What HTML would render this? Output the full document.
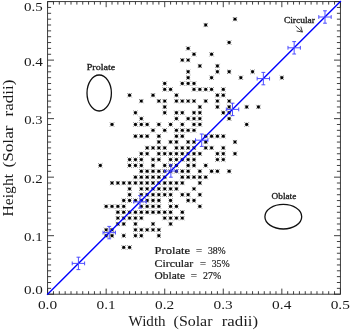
<!DOCTYPE html>
<html><head><meta charset="utf-8"><title>Height vs Width</title>
<style>
html,body{margin:0;padding:0;background:#fff}
svg{display:block}
text{font-family:"Liberation Serif","DejaVu Serif",serif;fill:#1a1a1a}
</style></head><body>
<svg width="350" height="330" viewBox="0 0 350 330">
<rect width="350" height="330" fill="#fff"/>
<g fill="none" stroke="#2a2a2a" stroke-width="0.9">
<rect x="47.6" y="1.599999999999966" width="292.8" height="292.6"/>
<path d="M47.6 294.2v-5.6M47.6 1.6v5.6M47.6 294.2h6.4M340.4 294.2h-6.4M53.46 294.2v-3.0M53.46 1.6v3.0M47.6 288.35h3.5M340.4 288.35h-3.5M59.31 294.2v-3.0M59.31 1.6v3.0M47.6 282.5h3.5M340.4 282.5h-3.5M65.17 294.2v-3.0M65.17 1.6v3.0M47.6 276.64h3.5M340.4 276.64h-3.5M71.02 294.2v-3.0M71.02 1.6v3.0M47.6 270.79h3.5M340.4 270.79h-3.5M76.88 294.2v-3.0M76.88 1.6v3.0M47.6 264.94h3.5M340.4 264.94h-3.5M82.74 294.2v-3.0M82.74 1.6v3.0M47.6 259.09h3.5M340.4 259.09h-3.5M88.59 294.2v-3.0M88.59 1.6v3.0M47.6 253.24h3.5M340.4 253.24h-3.5M94.45 294.2v-3.0M94.45 1.6v3.0M47.6 247.38h3.5M340.4 247.38h-3.5M100.3 294.2v-3.0M100.3 1.6v3.0M47.6 241.53h3.5M340.4 241.53h-3.5M106.16 294.2v-5.6M106.16 1.6v5.6M47.6 235.68h6.4M340.4 235.68h-6.4M112.02 294.2v-3.0M112.02 1.6v3.0M47.6 229.83h3.5M340.4 229.83h-3.5M117.87 294.2v-3.0M117.87 1.6v3.0M47.6 223.98h3.5M340.4 223.98h-3.5M123.73 294.2v-3.0M123.73 1.6v3.0M47.6 218.12h3.5M340.4 218.12h-3.5M129.58 294.2v-3.0M129.58 1.6v3.0M47.6 212.27h3.5M340.4 212.27h-3.5M135.44 294.2v-3.0M135.44 1.6v3.0M47.6 206.42h3.5M340.4 206.42h-3.5M141.3 294.2v-3.0M141.3 1.6v3.0M47.6 200.57h3.5M340.4 200.57h-3.5M147.15 294.2v-3.0M147.15 1.6v3.0M47.6 194.72h3.5M340.4 194.72h-3.5M153.01 294.2v-3.0M153.01 1.6v3.0M47.6 188.86h3.5M340.4 188.86h-3.5M158.86 294.2v-3.0M158.86 1.6v3.0M47.6 183.01h3.5M340.4 183.01h-3.5M164.72 294.2v-5.6M164.72 1.6v5.6M47.6 177.16h6.4M340.4 177.16h-6.4M170.58 294.2v-3.0M170.58 1.6v3.0M47.6 171.31h3.5M340.4 171.31h-3.5M176.43 294.2v-3.0M176.43 1.6v3.0M47.6 165.46h3.5M340.4 165.46h-3.5M182.29 294.2v-3.0M182.29 1.6v3.0M47.6 159.6h3.5M340.4 159.6h-3.5M188.14 294.2v-3.0M188.14 1.6v3.0M47.6 153.75h3.5M340.4 153.75h-3.5M194 294.2v-3.0M194 1.6v3.0M47.6 147.9h3.5M340.4 147.9h-3.5M199.86 294.2v-3.0M199.86 1.6v3.0M47.6 142.05h3.5M340.4 142.05h-3.5M205.71 294.2v-3.0M205.71 1.6v3.0M47.6 136.2h3.5M340.4 136.2h-3.5M211.57 294.2v-3.0M211.57 1.6v3.0M47.6 130.34h3.5M340.4 130.34h-3.5M217.42 294.2v-3.0M217.42 1.6v3.0M47.6 124.49h3.5M340.4 124.49h-3.5M223.28 294.2v-5.6M223.28 1.6v5.6M47.6 118.64h6.4M340.4 118.64h-6.4M229.14 294.2v-3.0M229.14 1.6v3.0M47.6 112.79h3.5M340.4 112.79h-3.5M234.99 294.2v-3.0M234.99 1.6v3.0M47.6 106.94h3.5M340.4 106.94h-3.5M240.85 294.2v-3.0M240.85 1.6v3.0M47.6 101.08h3.5M340.4 101.08h-3.5M246.7 294.2v-3.0M246.7 1.6v3.0M47.6 95.23h3.5M340.4 95.23h-3.5M252.56 294.2v-3.0M252.56 1.6v3.0M47.6 89.38h3.5M340.4 89.38h-3.5M258.42 294.2v-3.0M258.42 1.6v3.0M47.6 83.53h3.5M340.4 83.53h-3.5M264.27 294.2v-3.0M264.27 1.6v3.0M47.6 77.68h3.5M340.4 77.68h-3.5M270.13 294.2v-3.0M270.13 1.6v3.0M47.6 71.82h3.5M340.4 71.82h-3.5M275.98 294.2v-3.0M275.98 1.6v3.0M47.6 65.97h3.5M340.4 65.97h-3.5M281.84 294.2v-5.6M281.84 1.6v5.6M47.6 60.12h6.4M340.4 60.12h-6.4M287.7 294.2v-3.0M287.7 1.6v3.0M47.6 54.27h3.5M340.4 54.27h-3.5M293.55 294.2v-3.0M293.55 1.6v3.0M47.6 48.42h3.5M340.4 48.42h-3.5M299.41 294.2v-3.0M299.41 1.6v3.0M47.6 42.56h3.5M340.4 42.56h-3.5M305.26 294.2v-3.0M305.26 1.6v3.0M47.6 36.71h3.5M340.4 36.71h-3.5M311.12 294.2v-3.0M311.12 1.6v3.0M47.6 30.86h3.5M340.4 30.86h-3.5M316.98 294.2v-3.0M316.98 1.6v3.0M47.6 25.01h3.5M340.4 25.01h-3.5M322.83 294.2v-3.0M322.83 1.6v3.0M47.6 19.16h3.5M340.4 19.16h-3.5M328.69 294.2v-3.0M328.69 1.6v3.0M47.6 13.3h3.5M340.4 13.3h-3.5M334.54 294.2v-3.0M334.54 1.6v3.0M47.6 7.45h3.5M340.4 7.45h-3.5M340.4 294.2v-5.6M340.4 1.6v5.6M47.6 1.6h6.4M340.4 1.6h-6.4"/>
</g>
<g fill="none" stroke="#000">
<path stroke-width="0.9" stroke-opacity="0.62" d="M232.89 17.06l4.2 4.2m0 -4.2l-4.2 4.2M203.61 22.91l4.2 4.2m0 -4.2l-4.2 4.2M227.04 40.46l4.2 4.2m0 -4.2l-4.2 4.2M186.04 46.32l4.2 4.2m0 -4.2l-4.2 4.2M191.9 52.17l4.2 4.2m0 -4.2l-4.2 4.2M209.47 52.17l4.2 4.2m0 -4.2l-4.2 4.2M180.19 58.02l4.2 4.2m0 -4.2l-4.2 4.2M186.04 58.02l4.2 4.2m0 -4.2l-4.2 4.2M197.76 63.87l4.2 4.2m0 -4.2l-4.2 4.2M215.32 63.87l4.2 4.2m0 -4.2l-4.2 4.2M186.04 69.72l4.2 4.2m0 -4.2l-4.2 4.2M215.32 69.72l4.2 4.2m0 -4.2l-4.2 4.2M227.04 69.72l4.2 4.2m0 -4.2l-4.2 4.2M250.46 69.72l4.2 4.2m0 -4.2l-4.2 4.2M186.04 75.58l4.2 4.2m0 -4.2l-4.2 4.2M209.47 75.58l4.2 4.2m0 -4.2l-4.2 4.2M238.75 75.58l4.2 4.2m0 -4.2l-4.2 4.2M279.74 75.58l4.2 4.2m0 -4.2l-4.2 4.2M162.62 81.43l4.2 4.2m0 -4.2l-4.2 4.2M180.19 81.43l4.2 4.2m0 -4.2l-4.2 4.2M186.04 81.43l4.2 4.2m0 -4.2l-4.2 4.2M191.9 81.43l4.2 4.2m0 -4.2l-4.2 4.2M162.62 87.28l4.2 4.2m0 -4.2l-4.2 4.2M168.48 87.28l4.2 4.2m0 -4.2l-4.2 4.2M191.9 87.28l4.2 4.2m0 -4.2l-4.2 4.2M197.76 87.28l4.2 4.2m0 -4.2l-4.2 4.2M203.61 87.28l4.2 4.2m0 -4.2l-4.2 4.2M209.47 87.28l4.2 4.2m0 -4.2l-4.2 4.2M221.18 87.28l4.2 4.2m0 -4.2l-4.2 4.2M127.48 93.13l4.2 4.2m0 -4.2l-4.2 4.2M150.91 93.13l4.2 4.2m0 -4.2l-4.2 4.2M174.33 93.13l4.2 4.2m0 -4.2l-4.2 4.2M215.32 93.13l4.2 4.2m0 -4.2l-4.2 4.2M221.18 93.13l4.2 4.2m0 -4.2l-4.2 4.2M139.2 98.98l4.2 4.2m0 -4.2l-4.2 4.2M156.76 98.98l4.2 4.2m0 -4.2l-4.2 4.2M162.62 98.98l4.2 4.2m0 -4.2l-4.2 4.2M174.33 98.98l4.2 4.2m0 -4.2l-4.2 4.2M180.19 98.98l4.2 4.2m0 -4.2l-4.2 4.2M186.04 98.98l4.2 4.2m0 -4.2l-4.2 4.2M191.9 98.98l4.2 4.2m0 -4.2l-4.2 4.2M203.61 98.98l4.2 4.2m0 -4.2l-4.2 4.2M215.32 98.98l4.2 4.2m0 -4.2l-4.2 4.2M227.04 98.98l4.2 4.2m0 -4.2l-4.2 4.2M162.62 104.84l4.2 4.2m0 -4.2l-4.2 4.2M197.76 104.84l4.2 4.2m0 -4.2l-4.2 4.2M215.32 104.84l4.2 4.2m0 -4.2l-4.2 4.2M227.04 104.84l4.2 4.2m0 -4.2l-4.2 4.2M244.6 104.84l4.2 4.2m0 -4.2l-4.2 4.2M256.32 104.84l4.2 4.2m0 -4.2l-4.2 4.2M133.34 110.69l4.2 4.2m0 -4.2l-4.2 4.2M162.62 110.69l4.2 4.2m0 -4.2l-4.2 4.2M174.33 110.69l4.2 4.2m0 -4.2l-4.2 4.2M180.19 110.69l4.2 4.2m0 -4.2l-4.2 4.2M191.9 110.69l4.2 4.2m0 -4.2l-4.2 4.2M197.76 110.69l4.2 4.2m0 -4.2l-4.2 4.2M221.18 110.69l4.2 4.2m0 -4.2l-4.2 4.2M227.04 110.69l4.2 4.2m0 -4.2l-4.2 4.2M139.2 116.54l4.2 4.2m0 -4.2l-4.2 4.2M174.33 116.54l4.2 4.2m0 -4.2l-4.2 4.2M186.04 116.54l4.2 4.2m0 -4.2l-4.2 4.2M191.9 116.54l4.2 4.2m0 -4.2l-4.2 4.2M197.76 116.54l4.2 4.2m0 -4.2l-4.2 4.2M227.04 116.54l4.2 4.2m0 -4.2l-4.2 4.2M109.92 122.39l4.2 4.2m0 -4.2l-4.2 4.2M133.34 122.39l4.2 4.2m0 -4.2l-4.2 4.2M139.2 122.39l4.2 4.2m0 -4.2l-4.2 4.2M145.05 122.39l4.2 4.2m0 -4.2l-4.2 4.2M156.76 122.39l4.2 4.2m0 -4.2l-4.2 4.2M168.48 122.39l4.2 4.2m0 -4.2l-4.2 4.2M180.19 122.39l4.2 4.2m0 -4.2l-4.2 4.2M191.9 122.39l4.2 4.2m0 -4.2l-4.2 4.2M197.76 122.39l4.2 4.2m0 -4.2l-4.2 4.2M244.6 122.39l4.2 4.2m0 -4.2l-4.2 4.2M150.91 128.24l4.2 4.2m0 -4.2l-4.2 4.2M162.62 128.24l4.2 4.2m0 -4.2l-4.2 4.2M174.33 128.24l4.2 4.2m0 -4.2l-4.2 4.2M180.19 128.24l4.2 4.2m0 -4.2l-4.2 4.2M186.04 128.24l4.2 4.2m0 -4.2l-4.2 4.2M191.9 128.24l4.2 4.2m0 -4.2l-4.2 4.2M133.34 134.1l4.2 4.2m0 -4.2l-4.2 4.2M139.2 134.1l4.2 4.2m0 -4.2l-4.2 4.2M145.05 134.1l4.2 4.2m0 -4.2l-4.2 4.2M156.76 134.1l4.2 4.2m0 -4.2l-4.2 4.2M174.33 134.1l4.2 4.2m0 -4.2l-4.2 4.2M180.19 134.1l4.2 4.2m0 -4.2l-4.2 4.2M203.61 134.1l4.2 4.2m0 -4.2l-4.2 4.2M209.47 134.1l4.2 4.2m0 -4.2l-4.2 4.2M215.32 134.1l4.2 4.2m0 -4.2l-4.2 4.2M221.18 134.1l4.2 4.2m0 -4.2l-4.2 4.2M156.76 139.95l4.2 4.2m0 -4.2l-4.2 4.2M168.48 139.95l4.2 4.2m0 -4.2l-4.2 4.2M174.33 139.95l4.2 4.2m0 -4.2l-4.2 4.2M186.04 139.95l4.2 4.2m0 -4.2l-4.2 4.2M191.9 139.95l4.2 4.2m0 -4.2l-4.2 4.2M203.61 139.95l4.2 4.2m0 -4.2l-4.2 4.2M232.89 139.95l4.2 4.2m0 -4.2l-4.2 4.2M145.05 145.8l4.2 4.2m0 -4.2l-4.2 4.2M150.91 145.8l4.2 4.2m0 -4.2l-4.2 4.2M156.76 145.8l4.2 4.2m0 -4.2l-4.2 4.2M162.62 145.8l4.2 4.2m0 -4.2l-4.2 4.2M174.33 145.8l4.2 4.2m0 -4.2l-4.2 4.2M180.19 145.8l4.2 4.2m0 -4.2l-4.2 4.2M186.04 145.8l4.2 4.2m0 -4.2l-4.2 4.2M191.9 145.8l4.2 4.2m0 -4.2l-4.2 4.2M203.61 145.8l4.2 4.2m0 -4.2l-4.2 4.2M209.47 145.8l4.2 4.2m0 -4.2l-4.2 4.2M221.18 145.8l4.2 4.2m0 -4.2l-4.2 4.2M139.2 151.65l4.2 4.2m0 -4.2l-4.2 4.2M145.05 151.65l4.2 4.2m0 -4.2l-4.2 4.2M156.76 151.65l4.2 4.2m0 -4.2l-4.2 4.2M162.62 151.65l4.2 4.2m0 -4.2l-4.2 4.2M168.48 151.65l4.2 4.2m0 -4.2l-4.2 4.2M174.33 151.65l4.2 4.2m0 -4.2l-4.2 4.2M180.19 151.65l4.2 4.2m0 -4.2l-4.2 4.2M186.04 151.65l4.2 4.2m0 -4.2l-4.2 4.2M191.9 151.65l4.2 4.2m0 -4.2l-4.2 4.2M197.76 151.65l4.2 4.2m0 -4.2l-4.2 4.2M215.32 151.65l4.2 4.2m0 -4.2l-4.2 4.2M221.18 151.65l4.2 4.2m0 -4.2l-4.2 4.2M232.89 151.65l4.2 4.2m0 -4.2l-4.2 4.2M127.48 157.5l4.2 4.2m0 -4.2l-4.2 4.2M133.34 157.5l4.2 4.2m0 -4.2l-4.2 4.2M139.2 157.5l4.2 4.2m0 -4.2l-4.2 4.2M150.91 157.5l4.2 4.2m0 -4.2l-4.2 4.2M156.76 157.5l4.2 4.2m0 -4.2l-4.2 4.2M168.48 157.5l4.2 4.2m0 -4.2l-4.2 4.2M174.33 157.5l4.2 4.2m0 -4.2l-4.2 4.2M180.19 157.5l4.2 4.2m0 -4.2l-4.2 4.2M186.04 157.5l4.2 4.2m0 -4.2l-4.2 4.2M191.9 157.5l4.2 4.2m0 -4.2l-4.2 4.2M215.32 157.5l4.2 4.2m0 -4.2l-4.2 4.2M221.18 157.5l4.2 4.2m0 -4.2l-4.2 4.2M98.2 163.36l4.2 4.2m0 -4.2l-4.2 4.2M127.48 163.36l4.2 4.2m0 -4.2l-4.2 4.2M133.34 163.36l4.2 4.2m0 -4.2l-4.2 4.2M139.2 163.36l4.2 4.2m0 -4.2l-4.2 4.2M150.91 163.36l4.2 4.2m0 -4.2l-4.2 4.2M162.62 163.36l4.2 4.2m0 -4.2l-4.2 4.2M168.48 163.36l4.2 4.2m0 -4.2l-4.2 4.2M174.33 163.36l4.2 4.2m0 -4.2l-4.2 4.2M186.04 163.36l4.2 4.2m0 -4.2l-4.2 4.2M191.9 163.36l4.2 4.2m0 -4.2l-4.2 4.2M203.61 163.36l4.2 4.2m0 -4.2l-4.2 4.2M139.2 169.21l4.2 4.2m0 -4.2l-4.2 4.2M145.05 169.21l4.2 4.2m0 -4.2l-4.2 4.2M150.91 169.21l4.2 4.2m0 -4.2l-4.2 4.2M156.76 169.21l4.2 4.2m0 -4.2l-4.2 4.2M162.62 169.21l4.2 4.2m0 -4.2l-4.2 4.2M168.48 169.21l4.2 4.2m0 -4.2l-4.2 4.2M174.33 169.21l4.2 4.2m0 -4.2l-4.2 4.2M180.19 169.21l4.2 4.2m0 -4.2l-4.2 4.2M186.04 169.21l4.2 4.2m0 -4.2l-4.2 4.2M197.76 169.21l4.2 4.2m0 -4.2l-4.2 4.2M209.47 169.21l4.2 4.2m0 -4.2l-4.2 4.2M215.32 169.21l4.2 4.2m0 -4.2l-4.2 4.2M227.04 169.21l4.2 4.2m0 -4.2l-4.2 4.2M133.34 175.06l4.2 4.2m0 -4.2l-4.2 4.2M139.2 175.06l4.2 4.2m0 -4.2l-4.2 4.2M145.05 175.06l4.2 4.2m0 -4.2l-4.2 4.2M150.91 175.06l4.2 4.2m0 -4.2l-4.2 4.2M156.76 175.06l4.2 4.2m0 -4.2l-4.2 4.2M162.62 175.06l4.2 4.2m0 -4.2l-4.2 4.2M180.19 175.06l4.2 4.2m0 -4.2l-4.2 4.2M186.04 175.06l4.2 4.2m0 -4.2l-4.2 4.2M191.9 175.06l4.2 4.2m0 -4.2l-4.2 4.2M197.76 175.06l4.2 4.2m0 -4.2l-4.2 4.2M203.61 175.06l4.2 4.2m0 -4.2l-4.2 4.2M109.92 180.91l4.2 4.2m0 -4.2l-4.2 4.2M115.77 180.91l4.2 4.2m0 -4.2l-4.2 4.2M121.63 180.91l4.2 4.2m0 -4.2l-4.2 4.2M127.48 180.91l4.2 4.2m0 -4.2l-4.2 4.2M133.34 180.91l4.2 4.2m0 -4.2l-4.2 4.2M139.2 180.91l4.2 4.2m0 -4.2l-4.2 4.2M145.05 180.91l4.2 4.2m0 -4.2l-4.2 4.2M150.91 180.91l4.2 4.2m0 -4.2l-4.2 4.2M156.76 180.91l4.2 4.2m0 -4.2l-4.2 4.2M162.62 180.91l4.2 4.2m0 -4.2l-4.2 4.2M168.48 180.91l4.2 4.2m0 -4.2l-4.2 4.2M174.33 180.91l4.2 4.2m0 -4.2l-4.2 4.2M180.19 180.91l4.2 4.2m0 -4.2l-4.2 4.2M197.76 180.91l4.2 4.2m0 -4.2l-4.2 4.2M127.48 186.76l4.2 4.2m0 -4.2l-4.2 4.2M139.2 186.76l4.2 4.2m0 -4.2l-4.2 4.2M145.05 186.76l4.2 4.2m0 -4.2l-4.2 4.2M150.91 186.76l4.2 4.2m0 -4.2l-4.2 4.2M156.76 186.76l4.2 4.2m0 -4.2l-4.2 4.2M162.62 186.76l4.2 4.2m0 -4.2l-4.2 4.2M168.48 186.76l4.2 4.2m0 -4.2l-4.2 4.2M174.33 186.76l4.2 4.2m0 -4.2l-4.2 4.2M191.9 186.76l4.2 4.2m0 -4.2l-4.2 4.2M127.48 192.62l4.2 4.2m0 -4.2l-4.2 4.2M139.2 192.62l4.2 4.2m0 -4.2l-4.2 4.2M145.05 192.62l4.2 4.2m0 -4.2l-4.2 4.2M150.91 192.62l4.2 4.2m0 -4.2l-4.2 4.2M156.76 192.62l4.2 4.2m0 -4.2l-4.2 4.2M162.62 192.62l4.2 4.2m0 -4.2l-4.2 4.2M168.48 192.62l4.2 4.2m0 -4.2l-4.2 4.2M180.19 192.62l4.2 4.2m0 -4.2l-4.2 4.2M186.04 192.62l4.2 4.2m0 -4.2l-4.2 4.2M197.76 192.62l4.2 4.2m0 -4.2l-4.2 4.2M121.63 198.47l4.2 4.2m0 -4.2l-4.2 4.2M127.48 198.47l4.2 4.2m0 -4.2l-4.2 4.2M133.34 198.47l4.2 4.2m0 -4.2l-4.2 4.2M139.2 198.47l4.2 4.2m0 -4.2l-4.2 4.2M145.05 198.47l4.2 4.2m0 -4.2l-4.2 4.2M150.91 198.47l4.2 4.2m0 -4.2l-4.2 4.2M156.76 198.47l4.2 4.2m0 -4.2l-4.2 4.2M168.48 198.47l4.2 4.2m0 -4.2l-4.2 4.2M186.04 198.47l4.2 4.2m0 -4.2l-4.2 4.2M191.9 198.47l4.2 4.2m0 -4.2l-4.2 4.2M104.06 204.32l4.2 4.2m0 -4.2l-4.2 4.2M109.92 204.32l4.2 4.2m0 -4.2l-4.2 4.2M115.77 204.32l4.2 4.2m0 -4.2l-4.2 4.2M121.63 204.32l4.2 4.2m0 -4.2l-4.2 4.2M139.2 204.32l4.2 4.2m0 -4.2l-4.2 4.2M145.05 204.32l4.2 4.2m0 -4.2l-4.2 4.2M150.91 204.32l4.2 4.2m0 -4.2l-4.2 4.2M156.76 204.32l4.2 4.2m0 -4.2l-4.2 4.2M168.48 204.32l4.2 4.2m0 -4.2l-4.2 4.2M174.33 204.32l4.2 4.2m0 -4.2l-4.2 4.2M197.76 204.32l4.2 4.2m0 -4.2l-4.2 4.2M115.77 210.17l4.2 4.2m0 -4.2l-4.2 4.2M121.63 210.17l4.2 4.2m0 -4.2l-4.2 4.2M127.48 210.17l4.2 4.2m0 -4.2l-4.2 4.2M133.34 210.17l4.2 4.2m0 -4.2l-4.2 4.2M139.2 210.17l4.2 4.2m0 -4.2l-4.2 4.2M145.05 210.17l4.2 4.2m0 -4.2l-4.2 4.2M150.91 210.17l4.2 4.2m0 -4.2l-4.2 4.2M156.76 210.17l4.2 4.2m0 -4.2l-4.2 4.2M162.62 210.17l4.2 4.2m0 -4.2l-4.2 4.2M168.48 210.17l4.2 4.2m0 -4.2l-4.2 4.2M180.19 210.17l4.2 4.2m0 -4.2l-4.2 4.2M115.77 216.02l4.2 4.2m0 -4.2l-4.2 4.2M121.63 216.02l4.2 4.2m0 -4.2l-4.2 4.2M127.48 216.02l4.2 4.2m0 -4.2l-4.2 4.2M133.34 216.02l4.2 4.2m0 -4.2l-4.2 4.2M139.2 216.02l4.2 4.2m0 -4.2l-4.2 4.2M162.62 216.02l4.2 4.2m0 -4.2l-4.2 4.2M168.48 216.02l4.2 4.2m0 -4.2l-4.2 4.2M174.33 216.02l4.2 4.2m0 -4.2l-4.2 4.2M180.19 216.02l4.2 4.2m0 -4.2l-4.2 4.2M115.77 221.88l4.2 4.2m0 -4.2l-4.2 4.2M121.63 221.88l4.2 4.2m0 -4.2l-4.2 4.2M133.34 221.88l4.2 4.2m0 -4.2l-4.2 4.2M150.91 221.88l4.2 4.2m0 -4.2l-4.2 4.2M168.48 221.88l4.2 4.2m0 -4.2l-4.2 4.2M104.06 227.73l4.2 4.2m0 -4.2l-4.2 4.2M109.92 227.73l4.2 4.2m0 -4.2l-4.2 4.2M133.34 227.73l4.2 4.2m0 -4.2l-4.2 4.2M139.2 227.73l4.2 4.2m0 -4.2l-4.2 4.2M145.05 227.73l4.2 4.2m0 -4.2l-4.2 4.2M150.91 227.73l4.2 4.2m0 -4.2l-4.2 4.2M156.76 227.73l4.2 4.2m0 -4.2l-4.2 4.2M104.06 233.58l4.2 4.2m0 -4.2l-4.2 4.2M109.92 233.58l4.2 4.2m0 -4.2l-4.2 4.2M121.63 233.58l4.2 4.2m0 -4.2l-4.2 4.2M133.34 233.58l4.2 4.2m0 -4.2l-4.2 4.2M139.2 233.58l4.2 4.2m0 -4.2l-4.2 4.2M156.76 233.58l4.2 4.2m0 -4.2l-4.2 4.2M121.63 245.28l4.2 4.2m0 -4.2l-4.2 4.2M127.48 245.28l4.2 4.2m0 -4.2l-4.2 4.2"/>
<path stroke-width="0.8" stroke-opacity="0.4" d="M232.89 19.16h4.2M234.99 17.06v4.2M203.61 25.01h4.2M205.71 22.91v4.2M227.04 42.56h4.2M229.14 40.46v4.2M186.04 48.42h4.2M188.14 46.32v4.2M191.9 54.27h4.2M194 52.17v4.2M209.47 54.27h4.2M211.57 52.17v4.2M180.19 60.12h4.2M182.29 58.02v4.2M186.04 60.12h4.2M188.14 58.02v4.2M197.76 65.97h4.2M199.86 63.87v4.2M215.32 65.97h4.2M217.42 63.87v4.2M186.04 71.82h4.2M188.14 69.72v4.2M215.32 71.82h4.2M217.42 69.72v4.2M227.04 71.82h4.2M229.14 69.72v4.2M250.46 71.82h4.2M252.56 69.72v4.2M186.04 77.68h4.2M188.14 75.58v4.2M209.47 77.68h4.2M211.57 75.58v4.2M238.75 77.68h4.2M240.85 75.58v4.2M279.74 77.68h4.2M281.84 75.58v4.2M162.62 83.53h4.2M164.72 81.43v4.2M180.19 83.53h4.2M182.29 81.43v4.2M186.04 83.53h4.2M188.14 81.43v4.2M191.9 83.53h4.2M194 81.43v4.2M162.62 89.38h4.2M164.72 87.28v4.2M168.48 89.38h4.2M170.58 87.28v4.2M191.9 89.38h4.2M194 87.28v4.2M197.76 89.38h4.2M199.86 87.28v4.2M203.61 89.38h4.2M205.71 87.28v4.2M209.47 89.38h4.2M211.57 87.28v4.2M221.18 89.38h4.2M223.28 87.28v4.2M127.48 95.23h4.2M129.58 93.13v4.2M150.91 95.23h4.2M153.01 93.13v4.2M174.33 95.23h4.2M176.43 93.13v4.2M215.32 95.23h4.2M217.42 93.13v4.2M221.18 95.23h4.2M223.28 93.13v4.2M139.2 101.08h4.2M141.3 98.98v4.2M156.76 101.08h4.2M158.86 98.98v4.2M162.62 101.08h4.2M164.72 98.98v4.2M174.33 101.08h4.2M176.43 98.98v4.2M180.19 101.08h4.2M182.29 98.98v4.2M186.04 101.08h4.2M188.14 98.98v4.2M191.9 101.08h4.2M194 98.98v4.2M203.61 101.08h4.2M205.71 98.98v4.2M215.32 101.08h4.2M217.42 98.98v4.2M227.04 101.08h4.2M229.14 98.98v4.2M162.62 106.94h4.2M164.72 104.84v4.2M197.76 106.94h4.2M199.86 104.84v4.2M215.32 106.94h4.2M217.42 104.84v4.2M227.04 106.94h4.2M229.14 104.84v4.2M244.6 106.94h4.2M246.7 104.84v4.2M256.32 106.94h4.2M258.42 104.84v4.2M133.34 112.79h4.2M135.44 110.69v4.2M162.62 112.79h4.2M164.72 110.69v4.2M174.33 112.79h4.2M176.43 110.69v4.2M180.19 112.79h4.2M182.29 110.69v4.2M191.9 112.79h4.2M194 110.69v4.2M197.76 112.79h4.2M199.86 110.69v4.2M221.18 112.79h4.2M223.28 110.69v4.2M227.04 112.79h4.2M229.14 110.69v4.2M139.2 118.64h4.2M141.3 116.54v4.2M174.33 118.64h4.2M176.43 116.54v4.2M186.04 118.64h4.2M188.14 116.54v4.2M191.9 118.64h4.2M194 116.54v4.2M197.76 118.64h4.2M199.86 116.54v4.2M227.04 118.64h4.2M229.14 116.54v4.2M109.92 124.49h4.2M112.02 122.39v4.2M133.34 124.49h4.2M135.44 122.39v4.2M139.2 124.49h4.2M141.3 122.39v4.2M145.05 124.49h4.2M147.15 122.39v4.2M156.76 124.49h4.2M158.86 122.39v4.2M168.48 124.49h4.2M170.58 122.39v4.2M180.19 124.49h4.2M182.29 122.39v4.2M191.9 124.49h4.2M194 122.39v4.2M197.76 124.49h4.2M199.86 122.39v4.2M244.6 124.49h4.2M246.7 122.39v4.2M150.91 130.34h4.2M153.01 128.24v4.2M162.62 130.34h4.2M164.72 128.24v4.2M174.33 130.34h4.2M176.43 128.24v4.2M180.19 130.34h4.2M182.29 128.24v4.2M186.04 130.34h4.2M188.14 128.24v4.2M191.9 130.34h4.2M194 128.24v4.2M133.34 136.2h4.2M135.44 134.1v4.2M139.2 136.2h4.2M141.3 134.1v4.2M145.05 136.2h4.2M147.15 134.1v4.2M156.76 136.2h4.2M158.86 134.1v4.2M174.33 136.2h4.2M176.43 134.1v4.2M180.19 136.2h4.2M182.29 134.1v4.2M203.61 136.2h4.2M205.71 134.1v4.2M209.47 136.2h4.2M211.57 134.1v4.2M215.32 136.2h4.2M217.42 134.1v4.2M221.18 136.2h4.2M223.28 134.1v4.2M156.76 142.05h4.2M158.86 139.95v4.2M168.48 142.05h4.2M170.58 139.95v4.2M174.33 142.05h4.2M176.43 139.95v4.2M186.04 142.05h4.2M188.14 139.95v4.2M191.9 142.05h4.2M194 139.95v4.2M203.61 142.05h4.2M205.71 139.95v4.2M232.89 142.05h4.2M234.99 139.95v4.2M145.05 147.9h4.2M147.15 145.8v4.2M150.91 147.9h4.2M153.01 145.8v4.2M156.76 147.9h4.2M158.86 145.8v4.2M162.62 147.9h4.2M164.72 145.8v4.2M174.33 147.9h4.2M176.43 145.8v4.2M180.19 147.9h4.2M182.29 145.8v4.2M186.04 147.9h4.2M188.14 145.8v4.2M191.9 147.9h4.2M194 145.8v4.2M203.61 147.9h4.2M205.71 145.8v4.2M209.47 147.9h4.2M211.57 145.8v4.2M221.18 147.9h4.2M223.28 145.8v4.2M139.2 153.75h4.2M141.3 151.65v4.2M145.05 153.75h4.2M147.15 151.65v4.2M156.76 153.75h4.2M158.86 151.65v4.2M162.62 153.75h4.2M164.72 151.65v4.2M168.48 153.75h4.2M170.58 151.65v4.2M174.33 153.75h4.2M176.43 151.65v4.2M180.19 153.75h4.2M182.29 151.65v4.2M186.04 153.75h4.2M188.14 151.65v4.2M191.9 153.75h4.2M194 151.65v4.2M197.76 153.75h4.2M199.86 151.65v4.2M215.32 153.75h4.2M217.42 151.65v4.2M221.18 153.75h4.2M223.28 151.65v4.2M232.89 153.75h4.2M234.99 151.65v4.2M127.48 159.6h4.2M129.58 157.5v4.2M133.34 159.6h4.2M135.44 157.5v4.2M139.2 159.6h4.2M141.3 157.5v4.2M150.91 159.6h4.2M153.01 157.5v4.2M156.76 159.6h4.2M158.86 157.5v4.2M168.48 159.6h4.2M170.58 157.5v4.2M174.33 159.6h4.2M176.43 157.5v4.2M180.19 159.6h4.2M182.29 157.5v4.2M186.04 159.6h4.2M188.14 157.5v4.2M191.9 159.6h4.2M194 157.5v4.2M215.32 159.6h4.2M217.42 157.5v4.2M221.18 159.6h4.2M223.28 157.5v4.2M98.2 165.46h4.2M100.3 163.36v4.2M127.48 165.46h4.2M129.58 163.36v4.2M133.34 165.46h4.2M135.44 163.36v4.2M139.2 165.46h4.2M141.3 163.36v4.2M150.91 165.46h4.2M153.01 163.36v4.2M162.62 165.46h4.2M164.72 163.36v4.2M168.48 165.46h4.2M170.58 163.36v4.2M174.33 165.46h4.2M176.43 163.36v4.2M186.04 165.46h4.2M188.14 163.36v4.2M191.9 165.46h4.2M194 163.36v4.2M203.61 165.46h4.2M205.71 163.36v4.2M139.2 171.31h4.2M141.3 169.21v4.2M145.05 171.31h4.2M147.15 169.21v4.2M150.91 171.31h4.2M153.01 169.21v4.2M156.76 171.31h4.2M158.86 169.21v4.2M162.62 171.31h4.2M164.72 169.21v4.2M168.48 171.31h4.2M170.58 169.21v4.2M174.33 171.31h4.2M176.43 169.21v4.2M180.19 171.31h4.2M182.29 169.21v4.2M186.04 171.31h4.2M188.14 169.21v4.2M197.76 171.31h4.2M199.86 169.21v4.2M209.47 171.31h4.2M211.57 169.21v4.2M215.32 171.31h4.2M217.42 169.21v4.2M227.04 171.31h4.2M229.14 169.21v4.2M133.34 177.16h4.2M135.44 175.06v4.2M139.2 177.16h4.2M141.3 175.06v4.2M145.05 177.16h4.2M147.15 175.06v4.2M150.91 177.16h4.2M153.01 175.06v4.2M156.76 177.16h4.2M158.86 175.06v4.2M162.62 177.16h4.2M164.72 175.06v4.2M180.19 177.16h4.2M182.29 175.06v4.2M186.04 177.16h4.2M188.14 175.06v4.2M191.9 177.16h4.2M194 175.06v4.2M197.76 177.16h4.2M199.86 175.06v4.2M203.61 177.16h4.2M205.71 175.06v4.2M109.92 183.01h4.2M112.02 180.91v4.2M115.77 183.01h4.2M117.87 180.91v4.2M121.63 183.01h4.2M123.73 180.91v4.2M127.48 183.01h4.2M129.58 180.91v4.2M133.34 183.01h4.2M135.44 180.91v4.2M139.2 183.01h4.2M141.3 180.91v4.2M145.05 183.01h4.2M147.15 180.91v4.2M150.91 183.01h4.2M153.01 180.91v4.2M156.76 183.01h4.2M158.86 180.91v4.2M162.62 183.01h4.2M164.72 180.91v4.2M168.48 183.01h4.2M170.58 180.91v4.2M174.33 183.01h4.2M176.43 180.91v4.2M180.19 183.01h4.2M182.29 180.91v4.2M197.76 183.01h4.2M199.86 180.91v4.2M127.48 188.86h4.2M129.58 186.76v4.2M139.2 188.86h4.2M141.3 186.76v4.2M145.05 188.86h4.2M147.15 186.76v4.2M150.91 188.86h4.2M153.01 186.76v4.2M156.76 188.86h4.2M158.86 186.76v4.2M162.62 188.86h4.2M164.72 186.76v4.2M168.48 188.86h4.2M170.58 186.76v4.2M174.33 188.86h4.2M176.43 186.76v4.2M191.9 188.86h4.2M194 186.76v4.2M127.48 194.72h4.2M129.58 192.62v4.2M139.2 194.72h4.2M141.3 192.62v4.2M145.05 194.72h4.2M147.15 192.62v4.2M150.91 194.72h4.2M153.01 192.62v4.2M156.76 194.72h4.2M158.86 192.62v4.2M162.62 194.72h4.2M164.72 192.62v4.2M168.48 194.72h4.2M170.58 192.62v4.2M180.19 194.72h4.2M182.29 192.62v4.2M186.04 194.72h4.2M188.14 192.62v4.2M197.76 194.72h4.2M199.86 192.62v4.2M121.63 200.57h4.2M123.73 198.47v4.2M127.48 200.57h4.2M129.58 198.47v4.2M133.34 200.57h4.2M135.44 198.47v4.2M139.2 200.57h4.2M141.3 198.47v4.2M145.05 200.57h4.2M147.15 198.47v4.2M150.91 200.57h4.2M153.01 198.47v4.2M156.76 200.57h4.2M158.86 198.47v4.2M168.48 200.57h4.2M170.58 198.47v4.2M186.04 200.57h4.2M188.14 198.47v4.2M191.9 200.57h4.2M194 198.47v4.2M104.06 206.42h4.2M106.16 204.32v4.2M109.92 206.42h4.2M112.02 204.32v4.2M115.77 206.42h4.2M117.87 204.32v4.2M121.63 206.42h4.2M123.73 204.32v4.2M139.2 206.42h4.2M141.3 204.32v4.2M145.05 206.42h4.2M147.15 204.32v4.2M150.91 206.42h4.2M153.01 204.32v4.2M156.76 206.42h4.2M158.86 204.32v4.2M168.48 206.42h4.2M170.58 204.32v4.2M174.33 206.42h4.2M176.43 204.32v4.2M197.76 206.42h4.2M199.86 204.32v4.2M115.77 212.27h4.2M117.87 210.17v4.2M121.63 212.27h4.2M123.73 210.17v4.2M127.48 212.27h4.2M129.58 210.17v4.2M133.34 212.27h4.2M135.44 210.17v4.2M139.2 212.27h4.2M141.3 210.17v4.2M145.05 212.27h4.2M147.15 210.17v4.2M150.91 212.27h4.2M153.01 210.17v4.2M156.76 212.27h4.2M158.86 210.17v4.2M162.62 212.27h4.2M164.72 210.17v4.2M168.48 212.27h4.2M170.58 210.17v4.2M180.19 212.27h4.2M182.29 210.17v4.2M115.77 218.12h4.2M117.87 216.02v4.2M121.63 218.12h4.2M123.73 216.02v4.2M127.48 218.12h4.2M129.58 216.02v4.2M133.34 218.12h4.2M135.44 216.02v4.2M139.2 218.12h4.2M141.3 216.02v4.2M162.62 218.12h4.2M164.72 216.02v4.2M168.48 218.12h4.2M170.58 216.02v4.2M174.33 218.12h4.2M176.43 216.02v4.2M180.19 218.12h4.2M182.29 216.02v4.2M115.77 223.98h4.2M117.87 221.88v4.2M121.63 223.98h4.2M123.73 221.88v4.2M133.34 223.98h4.2M135.44 221.88v4.2M150.91 223.98h4.2M153.01 221.88v4.2M168.48 223.98h4.2M170.58 221.88v4.2M104.06 229.83h4.2M106.16 227.73v4.2M109.92 229.83h4.2M112.02 227.73v4.2M133.34 229.83h4.2M135.44 227.73v4.2M139.2 229.83h4.2M141.3 227.73v4.2M145.05 229.83h4.2M147.15 227.73v4.2M150.91 229.83h4.2M153.01 227.73v4.2M156.76 229.83h4.2M158.86 227.73v4.2M104.06 235.68h4.2M106.16 233.58v4.2M109.92 235.68h4.2M112.02 233.58v4.2M121.63 235.68h4.2M123.73 233.58v4.2M133.34 235.68h4.2M135.44 233.58v4.2M139.2 235.68h4.2M141.3 233.58v4.2M156.76 235.68h4.2M158.86 233.58v4.2M121.63 247.38h4.2M123.73 245.28v4.2M127.48 247.38h4.2M129.58 245.28v4.2"/>
<g stroke="none" fill="#000"><circle cx="234.99" cy="19.16" r="1.45"/><circle cx="205.71" cy="25.01" r="1.45"/><circle cx="229.14" cy="42.56" r="1.45"/><circle cx="188.14" cy="48.42" r="1.45"/><circle cx="194" cy="54.27" r="1.45"/><circle cx="211.57" cy="54.27" r="1.45"/><circle cx="182.29" cy="60.12" r="1.45"/><circle cx="188.14" cy="60.12" r="1.45"/><circle cx="199.86" cy="65.97" r="1.45"/><circle cx="217.42" cy="65.97" r="1.45"/><circle cx="188.14" cy="71.82" r="1.45"/><circle cx="217.42" cy="71.82" r="1.45"/><circle cx="229.14" cy="71.82" r="1.45"/><circle cx="252.56" cy="71.82" r="1.45"/><circle cx="188.14" cy="77.68" r="1.45"/><circle cx="211.57" cy="77.68" r="1.45"/><circle cx="240.85" cy="77.68" r="1.45"/><circle cx="281.84" cy="77.68" r="1.45"/><circle cx="164.72" cy="83.53" r="1.45"/><circle cx="182.29" cy="83.53" r="1.45"/><circle cx="188.14" cy="83.53" r="1.45"/><circle cx="194" cy="83.53" r="1.45"/><circle cx="164.72" cy="89.38" r="1.45"/><circle cx="170.58" cy="89.38" r="1.45"/><circle cx="194" cy="89.38" r="1.45"/><circle cx="199.86" cy="89.38" r="1.45"/><circle cx="205.71" cy="89.38" r="1.45"/><circle cx="211.57" cy="89.38" r="1.45"/><circle cx="223.28" cy="89.38" r="1.45"/><circle cx="129.58" cy="95.23" r="1.45"/><circle cx="153.01" cy="95.23" r="1.45"/><circle cx="176.43" cy="95.23" r="1.45"/><circle cx="217.42" cy="95.23" r="1.45"/><circle cx="223.28" cy="95.23" r="1.45"/><circle cx="141.3" cy="101.08" r="1.45"/><circle cx="158.86" cy="101.08" r="1.45"/><circle cx="164.72" cy="101.08" r="1.45"/><circle cx="176.43" cy="101.08" r="1.45"/><circle cx="182.29" cy="101.08" r="1.45"/><circle cx="188.14" cy="101.08" r="1.45"/><circle cx="194" cy="101.08" r="1.45"/><circle cx="205.71" cy="101.08" r="1.45"/><circle cx="217.42" cy="101.08" r="1.45"/><circle cx="229.14" cy="101.08" r="1.45"/><circle cx="164.72" cy="106.94" r="1.45"/><circle cx="199.86" cy="106.94" r="1.45"/><circle cx="217.42" cy="106.94" r="1.45"/><circle cx="229.14" cy="106.94" r="1.45"/><circle cx="246.7" cy="106.94" r="1.45"/><circle cx="258.42" cy="106.94" r="1.45"/><circle cx="135.44" cy="112.79" r="1.45"/><circle cx="164.72" cy="112.79" r="1.45"/><circle cx="176.43" cy="112.79" r="1.45"/><circle cx="182.29" cy="112.79" r="1.45"/><circle cx="194" cy="112.79" r="1.45"/><circle cx="199.86" cy="112.79" r="1.45"/><circle cx="223.28" cy="112.79" r="1.45"/><circle cx="229.14" cy="112.79" r="1.45"/><circle cx="141.3" cy="118.64" r="1.45"/><circle cx="176.43" cy="118.64" r="1.45"/><circle cx="188.14" cy="118.64" r="1.45"/><circle cx="194" cy="118.64" r="1.45"/><circle cx="199.86" cy="118.64" r="1.45"/><circle cx="229.14" cy="118.64" r="1.45"/><circle cx="112.02" cy="124.49" r="1.45"/><circle cx="135.44" cy="124.49" r="1.45"/><circle cx="141.3" cy="124.49" r="1.45"/><circle cx="147.15" cy="124.49" r="1.45"/><circle cx="158.86" cy="124.49" r="1.45"/><circle cx="170.58" cy="124.49" r="1.45"/><circle cx="182.29" cy="124.49" r="1.45"/><circle cx="194" cy="124.49" r="1.45"/><circle cx="199.86" cy="124.49" r="1.45"/><circle cx="246.7" cy="124.49" r="1.45"/><circle cx="153.01" cy="130.34" r="1.45"/><circle cx="164.72" cy="130.34" r="1.45"/><circle cx="176.43" cy="130.34" r="1.45"/><circle cx="182.29" cy="130.34" r="1.45"/><circle cx="188.14" cy="130.34" r="1.45"/><circle cx="194" cy="130.34" r="1.45"/><circle cx="135.44" cy="136.2" r="1.45"/><circle cx="141.3" cy="136.2" r="1.45"/><circle cx="147.15" cy="136.2" r="1.45"/><circle cx="158.86" cy="136.2" r="1.45"/><circle cx="176.43" cy="136.2" r="1.45"/><circle cx="182.29" cy="136.2" r="1.45"/><circle cx="205.71" cy="136.2" r="1.45"/><circle cx="211.57" cy="136.2" r="1.45"/><circle cx="217.42" cy="136.2" r="1.45"/><circle cx="223.28" cy="136.2" r="1.45"/><circle cx="158.86" cy="142.05" r="1.45"/><circle cx="170.58" cy="142.05" r="1.45"/><circle cx="176.43" cy="142.05" r="1.45"/><circle cx="188.14" cy="142.05" r="1.45"/><circle cx="194" cy="142.05" r="1.45"/><circle cx="205.71" cy="142.05" r="1.45"/><circle cx="234.99" cy="142.05" r="1.45"/><circle cx="147.15" cy="147.9" r="1.45"/><circle cx="153.01" cy="147.9" r="1.45"/><circle cx="158.86" cy="147.9" r="1.45"/><circle cx="164.72" cy="147.9" r="1.45"/><circle cx="176.43" cy="147.9" r="1.45"/><circle cx="182.29" cy="147.9" r="1.45"/><circle cx="188.14" cy="147.9" r="1.45"/><circle cx="194" cy="147.9" r="1.45"/><circle cx="205.71" cy="147.9" r="1.45"/><circle cx="211.57" cy="147.9" r="1.45"/><circle cx="223.28" cy="147.9" r="1.45"/><circle cx="141.3" cy="153.75" r="1.45"/><circle cx="147.15" cy="153.75" r="1.45"/><circle cx="158.86" cy="153.75" r="1.45"/><circle cx="164.72" cy="153.75" r="1.45"/><circle cx="170.58" cy="153.75" r="1.45"/><circle cx="176.43" cy="153.75" r="1.45"/><circle cx="182.29" cy="153.75" r="1.45"/><circle cx="188.14" cy="153.75" r="1.45"/><circle cx="194" cy="153.75" r="1.45"/><circle cx="199.86" cy="153.75" r="1.45"/><circle cx="217.42" cy="153.75" r="1.45"/><circle cx="223.28" cy="153.75" r="1.45"/><circle cx="234.99" cy="153.75" r="1.45"/><circle cx="129.58" cy="159.6" r="1.45"/><circle cx="135.44" cy="159.6" r="1.45"/><circle cx="141.3" cy="159.6" r="1.45"/><circle cx="153.01" cy="159.6" r="1.45"/><circle cx="158.86" cy="159.6" r="1.45"/><circle cx="170.58" cy="159.6" r="1.45"/><circle cx="176.43" cy="159.6" r="1.45"/><circle cx="182.29" cy="159.6" r="1.45"/><circle cx="188.14" cy="159.6" r="1.45"/><circle cx="194" cy="159.6" r="1.45"/><circle cx="217.42" cy="159.6" r="1.45"/><circle cx="223.28" cy="159.6" r="1.45"/><circle cx="100.3" cy="165.46" r="1.45"/><circle cx="129.58" cy="165.46" r="1.45"/><circle cx="135.44" cy="165.46" r="1.45"/><circle cx="141.3" cy="165.46" r="1.45"/><circle cx="153.01" cy="165.46" r="1.45"/><circle cx="164.72" cy="165.46" r="1.45"/><circle cx="170.58" cy="165.46" r="1.45"/><circle cx="176.43" cy="165.46" r="1.45"/><circle cx="188.14" cy="165.46" r="1.45"/><circle cx="194" cy="165.46" r="1.45"/><circle cx="205.71" cy="165.46" r="1.45"/><circle cx="141.3" cy="171.31" r="1.45"/><circle cx="147.15" cy="171.31" r="1.45"/><circle cx="153.01" cy="171.31" r="1.45"/><circle cx="158.86" cy="171.31" r="1.45"/><circle cx="164.72" cy="171.31" r="1.45"/><circle cx="170.58" cy="171.31" r="1.45"/><circle cx="176.43" cy="171.31" r="1.45"/><circle cx="182.29" cy="171.31" r="1.45"/><circle cx="188.14" cy="171.31" r="1.45"/><circle cx="199.86" cy="171.31" r="1.45"/><circle cx="211.57" cy="171.31" r="1.45"/><circle cx="217.42" cy="171.31" r="1.45"/><circle cx="229.14" cy="171.31" r="1.45"/><circle cx="135.44" cy="177.16" r="1.45"/><circle cx="141.3" cy="177.16" r="1.45"/><circle cx="147.15" cy="177.16" r="1.45"/><circle cx="153.01" cy="177.16" r="1.45"/><circle cx="158.86" cy="177.16" r="1.45"/><circle cx="164.72" cy="177.16" r="1.45"/><circle cx="182.29" cy="177.16" r="1.45"/><circle cx="188.14" cy="177.16" r="1.45"/><circle cx="194" cy="177.16" r="1.45"/><circle cx="199.86" cy="177.16" r="1.45"/><circle cx="205.71" cy="177.16" r="1.45"/><circle cx="112.02" cy="183.01" r="1.45"/><circle cx="117.87" cy="183.01" r="1.45"/><circle cx="123.73" cy="183.01" r="1.45"/><circle cx="129.58" cy="183.01" r="1.45"/><circle cx="135.44" cy="183.01" r="1.45"/><circle cx="141.3" cy="183.01" r="1.45"/><circle cx="147.15" cy="183.01" r="1.45"/><circle cx="153.01" cy="183.01" r="1.45"/><circle cx="158.86" cy="183.01" r="1.45"/><circle cx="164.72" cy="183.01" r="1.45"/><circle cx="170.58" cy="183.01" r="1.45"/><circle cx="176.43" cy="183.01" r="1.45"/><circle cx="182.29" cy="183.01" r="1.45"/><circle cx="199.86" cy="183.01" r="1.45"/><circle cx="129.58" cy="188.86" r="1.45"/><circle cx="141.3" cy="188.86" r="1.45"/><circle cx="147.15" cy="188.86" r="1.45"/><circle cx="153.01" cy="188.86" r="1.45"/><circle cx="158.86" cy="188.86" r="1.45"/><circle cx="164.72" cy="188.86" r="1.45"/><circle cx="170.58" cy="188.86" r="1.45"/><circle cx="176.43" cy="188.86" r="1.45"/><circle cx="194" cy="188.86" r="1.45"/><circle cx="129.58" cy="194.72" r="1.45"/><circle cx="141.3" cy="194.72" r="1.45"/><circle cx="147.15" cy="194.72" r="1.45"/><circle cx="153.01" cy="194.72" r="1.45"/><circle cx="158.86" cy="194.72" r="1.45"/><circle cx="164.72" cy="194.72" r="1.45"/><circle cx="170.58" cy="194.72" r="1.45"/><circle cx="182.29" cy="194.72" r="1.45"/><circle cx="188.14" cy="194.72" r="1.45"/><circle cx="199.86" cy="194.72" r="1.45"/><circle cx="123.73" cy="200.57" r="1.45"/><circle cx="129.58" cy="200.57" r="1.45"/><circle cx="135.44" cy="200.57" r="1.45"/><circle cx="141.3" cy="200.57" r="1.45"/><circle cx="147.15" cy="200.57" r="1.45"/><circle cx="153.01" cy="200.57" r="1.45"/><circle cx="158.86" cy="200.57" r="1.45"/><circle cx="170.58" cy="200.57" r="1.45"/><circle cx="188.14" cy="200.57" r="1.45"/><circle cx="194" cy="200.57" r="1.45"/><circle cx="106.16" cy="206.42" r="1.45"/><circle cx="112.02" cy="206.42" r="1.45"/><circle cx="117.87" cy="206.42" r="1.45"/><circle cx="123.73" cy="206.42" r="1.45"/><circle cx="141.3" cy="206.42" r="1.45"/><circle cx="147.15" cy="206.42" r="1.45"/><circle cx="153.01" cy="206.42" r="1.45"/><circle cx="158.86" cy="206.42" r="1.45"/><circle cx="170.58" cy="206.42" r="1.45"/><circle cx="176.43" cy="206.42" r="1.45"/><circle cx="199.86" cy="206.42" r="1.45"/><circle cx="117.87" cy="212.27" r="1.45"/><circle cx="123.73" cy="212.27" r="1.45"/><circle cx="129.58" cy="212.27" r="1.45"/><circle cx="135.44" cy="212.27" r="1.45"/><circle cx="141.3" cy="212.27" r="1.45"/><circle cx="147.15" cy="212.27" r="1.45"/><circle cx="153.01" cy="212.27" r="1.45"/><circle cx="158.86" cy="212.27" r="1.45"/><circle cx="164.72" cy="212.27" r="1.45"/><circle cx="170.58" cy="212.27" r="1.45"/><circle cx="182.29" cy="212.27" r="1.45"/><circle cx="117.87" cy="218.12" r="1.45"/><circle cx="123.73" cy="218.12" r="1.45"/><circle cx="129.58" cy="218.12" r="1.45"/><circle cx="135.44" cy="218.12" r="1.45"/><circle cx="141.3" cy="218.12" r="1.45"/><circle cx="164.72" cy="218.12" r="1.45"/><circle cx="170.58" cy="218.12" r="1.45"/><circle cx="176.43" cy="218.12" r="1.45"/><circle cx="182.29" cy="218.12" r="1.45"/><circle cx="117.87" cy="223.98" r="1.45"/><circle cx="123.73" cy="223.98" r="1.45"/><circle cx="135.44" cy="223.98" r="1.45"/><circle cx="153.01" cy="223.98" r="1.45"/><circle cx="170.58" cy="223.98" r="1.45"/><circle cx="106.16" cy="229.83" r="1.45"/><circle cx="112.02" cy="229.83" r="1.45"/><circle cx="135.44" cy="229.83" r="1.45"/><circle cx="141.3" cy="229.83" r="1.45"/><circle cx="147.15" cy="229.83" r="1.45"/><circle cx="153.01" cy="229.83" r="1.45"/><circle cx="158.86" cy="229.83" r="1.45"/><circle cx="106.16" cy="235.68" r="1.45"/><circle cx="112.02" cy="235.68" r="1.45"/><circle cx="123.73" cy="235.68" r="1.45"/><circle cx="135.44" cy="235.68" r="1.45"/><circle cx="141.3" cy="235.68" r="1.45"/><circle cx="158.86" cy="235.68" r="1.45"/><circle cx="123.73" cy="247.38" r="1.45"/><circle cx="129.58" cy="247.38" r="1.45"/></g>
</g>
<line x1="47.6" y1="294.2" x2="340.40000000000003" y2="1.599999999999966" stroke="#0000ff" stroke-width="1.4" stroke-linecap="square"/>
<path fill="none" stroke="#4646ff" stroke-width="0.95" d="M72.22 263.4h12.4M78.42 257.2v12.4M72.22 261.5v3.8M84.62 261.5v3.8M76.52 257.2h3.8M76.52 269.6h3.8M103.04 232.6h12.4M109.24 226.4v12.4M103.04 230.7v3.8M115.44 230.7v3.8M107.34 226.4h3.8M107.34 238.8h3.8M133.86 201.8h12.4M140.06 195.6v12.4M133.86 199.9v3.8M146.26 199.9v3.8M138.16 195.6h3.8M138.16 208h3.8M164.68 171h12.4M170.88 164.8v12.4M164.68 169.1v3.8M177.08 169.1v3.8M168.98 164.8h3.8M168.98 177.2h3.8M195.51 140.2h12.4M201.71 134v12.4M195.51 138.3v3.8M207.91 138.3v3.8M199.81 134h3.8M199.81 146.4h3.8M226.33 109.4h12.4M232.53 103.2v12.4M226.33 107.5v3.8M238.73 107.5v3.8M230.63 103.2h3.8M230.63 115.6h3.8M257.15 78.6h12.4M263.35 72.4v12.4M257.15 76.7v3.8M269.55 76.7v3.8M261.45 72.4h3.8M261.45 84.8h3.8M287.97 47.8h12.4M294.17 41.6v12.4M287.97 45.9v3.8M300.37 45.9v3.8M292.27 41.6h3.8M292.27 54h3.8M318.79 17h12.4M324.99 10.8v12.4M318.79 15.1v3.8M331.19 15.1v3.8M323.09 10.8h3.8M323.09 23.2h3.8"/>
<g fill="none" stroke="#111" stroke-width="1.3">
<ellipse cx="99.2" cy="93" rx="12.2" ry="18"/>
<ellipse cx="283.3" cy="216.7" rx="18.4" ry="12.3"/>
</g>
<path fill="none" stroke="#111" stroke-width="0.8" d="M295.7 25.9L302.4 32M296.6 31L302.4 32L300.8 26.6"/>
<text x="24" y="10.7" font-size="13.4" textLength="18.7" lengthAdjust="spacingAndGlyphs" text-anchor="start">0.5</text>
<text x="23.9" y="66" font-size="13.4" textLength="19" lengthAdjust="spacingAndGlyphs" text-anchor="start">0.4</text>
<text x="24.2" y="124" font-size="13.4" textLength="18.3" lengthAdjust="spacingAndGlyphs" text-anchor="start">0.3</text>
<text x="24" y="182.6" font-size="13.4" textLength="18.6" lengthAdjust="spacingAndGlyphs" text-anchor="start">0.2</text>
<text x="24" y="241" font-size="13.4" textLength="18.6" lengthAdjust="spacingAndGlyphs" text-anchor="start">0.1</text>
<text x="24" y="294.3" font-size="13.4" textLength="18.9" lengthAdjust="spacingAndGlyphs" text-anchor="start">0.0</text>
<text x="37.9" y="309.3" font-size="13.4" textLength="19.2" lengthAdjust="spacingAndGlyphs" text-anchor="start">0.0</text>
<text x="96.46" y="309.3" font-size="13.4" textLength="19.2" lengthAdjust="spacingAndGlyphs" text-anchor="start">0.1</text>
<text x="155.02" y="309.3" font-size="13.4" textLength="19.2" lengthAdjust="spacingAndGlyphs" text-anchor="start">0.2</text>
<text x="213.58" y="309.3" font-size="13.4" textLength="19.2" lengthAdjust="spacingAndGlyphs" text-anchor="start">0.3</text>
<text x="272.14" y="309.3" font-size="13.4" textLength="19.2" lengthAdjust="spacingAndGlyphs" text-anchor="start">0.4</text>
<text x="330.7" y="309.3" font-size="13.4" textLength="19.2" lengthAdjust="spacingAndGlyphs" text-anchor="start">0.5</text>
<text x="128.6" y="325.6" font-size="13.6" textLength="37" lengthAdjust="spacingAndGlyphs" text-anchor="start">Width</text>
<text x="173.6" y="325.6" font-size="13.6" textLength="38.9" lengthAdjust="spacingAndGlyphs" text-anchor="start">(Solar</text>
<text x="221.7" y="325.6" font-size="13.6" textLength="36.4" lengthAdjust="spacingAndGlyphs" text-anchor="start">radii)</text>
<text transform="translate(12.8 216.4) rotate(-90)" font-size="13.6" textLength="42.4" lengthAdjust="spacingAndGlyphs">Height</text>
<text transform="translate(12.8 167.5) rotate(-90)" font-size="13.6" textLength="42" lengthAdjust="spacingAndGlyphs">(Solar</text>
<text transform="translate(12.8 116.4) rotate(-90)" font-size="13.6" textLength="36.9" lengthAdjust="spacingAndGlyphs">radii)</text>
<text x="86.8" y="70" font-size="8.4" textLength="28.4" lengthAdjust="spacingAndGlyphs" text-anchor="start" stroke="#1a1a1a" stroke-width="0.3">Prolate</text>
<text x="271.6" y="198.7" font-size="8.4" textLength="24.7" lengthAdjust="spacingAndGlyphs" text-anchor="start" stroke="#1a1a1a" stroke-width="0.3">Oblate</text>
<text x="283.9" y="23.4" font-size="8.4" textLength="31.1" lengthAdjust="spacingAndGlyphs" text-anchor="start" stroke="#1a1a1a" stroke-width="0.3">Circular</text>
<text x="154.6" y="254.3" font-size="9.9" textLength="35.4" lengthAdjust="spacingAndGlyphs" text-anchor="start" stroke="#1a1a1a" stroke-width="0.2">Prolate</text>
<text x="196" y="254.3" font-size="9.9" textLength="6.1" lengthAdjust="spacingAndGlyphs" text-anchor="start" stroke="#1a1a1a" stroke-width="0.2">=</text>
<text x="207.9" y="254.3" font-size="9.9" textLength="17.8" lengthAdjust="spacingAndGlyphs" text-anchor="start" stroke="#1a1a1a" stroke-width="0.2">38%</text>
<text x="154.6" y="266.7" font-size="9.9" textLength="38.7" lengthAdjust="spacingAndGlyphs" text-anchor="start" stroke="#1a1a1a" stroke-width="0.2">Circular</text>
<text x="200" y="266.7" font-size="9.9" textLength="6" lengthAdjust="spacingAndGlyphs" text-anchor="start" stroke="#1a1a1a" stroke-width="0.2">=</text>
<text x="211.7" y="266.7" font-size="9.9" textLength="18" lengthAdjust="spacingAndGlyphs" text-anchor="start" stroke="#1a1a1a" stroke-width="0.2">35%</text>
<text x="154.6" y="278.9" font-size="9.9" textLength="30.4" lengthAdjust="spacingAndGlyphs" text-anchor="start" stroke="#1a1a1a" stroke-width="0.2">Oblate</text>
<text x="190.7" y="278.9" font-size="9.9" textLength="6.2" lengthAdjust="spacingAndGlyphs" text-anchor="start" stroke="#1a1a1a" stroke-width="0.2">=</text>
<text x="203.1" y="278.9" font-size="9.9" textLength="18" lengthAdjust="spacingAndGlyphs" text-anchor="start" stroke="#1a1a1a" stroke-width="0.2">27%</text>
</svg>
</body></html>
